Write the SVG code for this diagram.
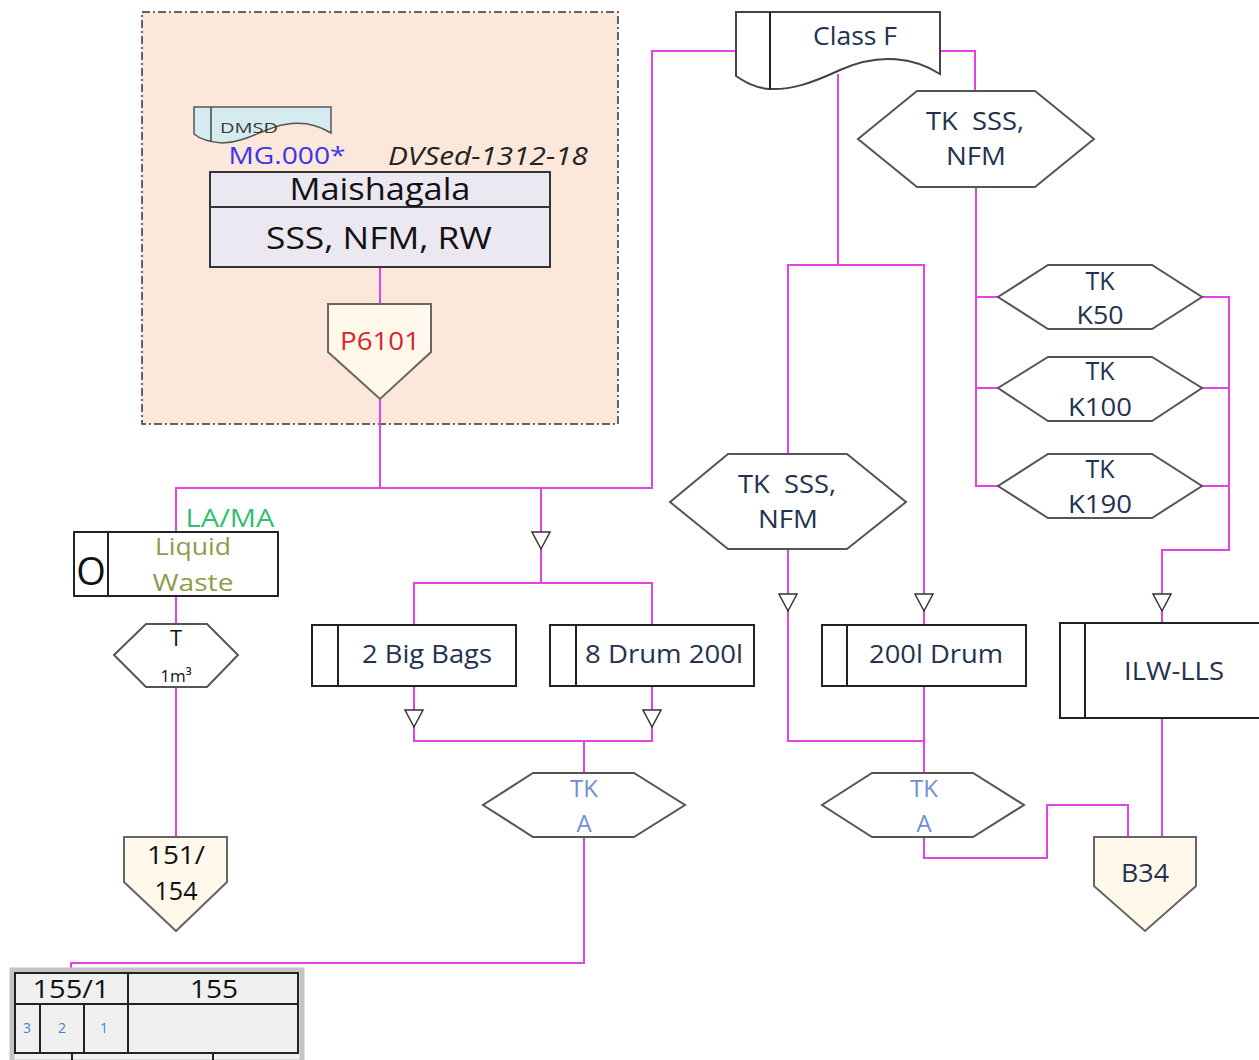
<svg xmlns="http://www.w3.org/2000/svg" width="1259" height="1060" viewBox="0 0 1259 1060">
<style>
text{font-family:"Open Sans","Noto Sans","Liberation Sans",sans-serif;text-anchor:middle;white-space:pre}
.conn{fill:none;stroke:#e443e4;stroke-width:2}
.box{fill:#fff;stroke:#222;stroke-width:2}
.hex{fill:#fff;stroke:#555;stroke-width:2}
.pent{fill:#fff8eb;stroke:#666;stroke-width:2}
.arr{fill:#fff;stroke:#333;stroke-width:1.5}
.dark{fill:#24324f;font-size:25px}
.tka{fill:#6e90cf;font-size:24px}
.tbl{fill:none;stroke:#222;stroke-width:2}
</style>
<rect width="1259" height="1060" fill="#fff"/>
<g id="area">
<rect x="142" y="12" width="476" height="412" fill="#fbe8da" stroke="#333" stroke-width="1.5" stroke-dasharray="8,3,2,3"/>
</g>
<g id="connectors">
<path class="conn" d="M380,267V304"/>
<path class="conn" d="M380,399V488"/>
<path class="conn" d="M176,532V488H652V51H736"/>
<path class="conn" d="M541,488V583"/>
<path class="conn" d="M414,625V583H652V625"/>
<path class="conn" d="M176,596V624"/>
<path class="conn" d="M176,687V837"/>
<path class="conn" d="M414,686V741H652V686"/>
<path class="conn" d="M584,741V773"/>
<path class="conn" d="M584,837V963H71V973"/>
<path class="conn" d="M940,51H975V91"/>
<path class="conn" d="M838,74V265"/>
<path class="conn" d="M788,454V265H924V625"/>
<path class="conn" d="M788,549V741H924"/>
<path class="conn" d="M924,686V773"/>
<path class="conn" d="M924,837V858H1047V805H1128V837"/>
<path class="conn" d="M976,187V486H998M976,297H998M976,388H998"/>
<path class="conn" d="M1202,297H1229V550H1162V623M1202,388H1229M1202,486H1229"/>
<path class="conn" d="M1162,718V837"/>
<polygon class="arr" points="532,532 550,532 541,549"/>
<polygon class="arr" points="405,710 423,710 414,727"/>
<polygon class="arr" points="643,710 661,710 652,727"/>
<polygon class="arr" points="779,594 797,594 788,611"/>
<polygon class="arr" points="915,594 933,594 924,611"/>
<polygon class="arr" points="1153,594 1171,594 1162,611"/>
</g>
<g id="dmsd">
<path d="M194,107H331V133C318,125 300,119 275,127C255,134 240,143 222,143C210,142 200,139 194,134Z" fill="#d6ebf0" stroke="#555" stroke-width="1.5"/>
<line x1="211" y1="107" x2="211" y2="142" stroke="#444" stroke-width="1.5"/>
<text x="249" y="133" textLength="58" lengthAdjust="spacingAndGlyphs" style="font-size:15px;fill:#3a3a3a">DMSD</text>
</g>
<g id="labels-area">
<text x="287" y="164" textLength="117" lengthAdjust="spacingAndGlyphs" style="font-size:23px;fill:#3b35f0">MG.000*</text>
<text x="488" y="165" textLength="200" lengthAdjust="spacingAndGlyphs" style="font-size:25px;font-style:italic;fill:#222">DVSed-1312-18</text>
</g>
<g id="maishagala">
<rect x="210" y="172" width="340" height="95" fill="#ece8f2" stroke="#333" stroke-width="2"/>
<line x1="210" y1="207" x2="550" y2="207" stroke="#333" stroke-width="2"/>
<text x="380" y="200" textLength="181" lengthAdjust="spacingAndGlyphs" style="font-size:31px;fill:#111">Maishagala</text>
<text x="379" y="249" textLength="226" lengthAdjust="spacingAndGlyphs" style="font-size:31px;fill:#111">SSS, NFM, RW</text>
</g>
<g id="p6101">
<polygon class="pent" points="328,304 431,304 431,352 380,399 328,352"/>
<text x="380" y="350" textLength="80" lengthAdjust="spacingAndGlyphs" style="font-size:25px;fill:#d8262e">P6101</text>
</g>
<g id="liquid-waste">
<text x="230" y="527" textLength="89" lengthAdjust="spacingAndGlyphs" style="font-size:25px;fill:#2fbf6e">LA/MA</text>
<rect class="box" x="74" y="532" width="204" height="64"/>
<line x1="108" y1="532" x2="108" y2="596" stroke="#222" stroke-width="2"/>
<text x="91" y="585" style="font-size:38px;fill:#111">O</text>
<text x="193" y="555" textLength="76" lengthAdjust="spacingAndGlyphs" style="font-size:24px;fill:#8d9c4a">Liquid</text>
<text x="193" y="591" textLength="81" lengthAdjust="spacingAndGlyphs" style="font-size:24px;fill:#8d9c4a">Waste</text>
</g>
<g id="tank-t">
<polygon class="hex" points="146,624 207,624 238,655 207,687 146,687 114,655"/>
<text x="176" y="646" style="font-size:22px;fill:#111">T</text>
<text x="176" y="682" style="font-size:17px;fill:#111">1m³</text>
</g>
<g id="p151">
<polygon class="pent" points="124,837 227,837 227,882 176,931 124,882"/>
<text x="176" y="864" textLength="58" lengthAdjust="spacingAndGlyphs" style="font-size:25px;fill:#111">151/</text>
<text x="176" y="900" style="font-size:25px;fill:#111">154</text>
</g>
<g id="big-bags">
<rect class="box" x="312" y="625" width="204" height="61"/>
<line x1="338" y1="625" x2="338" y2="686" stroke="#222" stroke-width="2"/>
<text x="427" y="663" class="dark" textLength="130" lengthAdjust="spacingAndGlyphs">2 Big Bags</text>
</g>
<g id="drum8">
<rect class="box" x="550" y="625" width="204" height="61"/>
<line x1="576" y1="625" x2="576" y2="686" stroke="#222" stroke-width="2"/>
<text x="664" y="663" class="dark" textLength="158" lengthAdjust="spacingAndGlyphs">8 Drum 200l</text>
</g>
<g id="tka1">
<polygon class="hex" points="533,773 634,773 685,805 634,837 533,837 483,805"/>
<text x="584" y="797" class="tka">TK</text>
<text x="584" y="832" class="tka">A</text>
</g>
<g id="table155">
<rect x="12" y="970" width="290" height="92" fill="#f0f0f0" stroke="#c4c4c4" stroke-width="5"/>
<rect class="tbl" x="15" y="973" width="283" height="80"/>
<line class="tbl" x1="15" y1="1004" x2="298" y2="1004"/>
<line class="tbl" x1="128" y1="973" x2="128" y2="1053"/>
<line class="tbl" x1="40" y1="1004" x2="40" y2="1053"/>
<line class="tbl" x1="84" y1="1004" x2="84" y2="1053"/>
<line class="tbl" x1="72" y1="1053" x2="72" y2="1060"/>
<line class="tbl" x1="213" y1="1053" x2="213" y2="1060"/>
<text x="71" y="998" textLength="77" lengthAdjust="spacingAndGlyphs" style="font-size:26px;fill:#111">155/1</text>
<text x="214" y="998" textLength="48" lengthAdjust="spacingAndGlyphs" style="font-size:26px;fill:#111">155</text>
<text x="27" y="1033" style="font-size:14px;fill:#3a86d8">3</text>
<text x="62" y="1033" style="font-size:14px;fill:#3a86d8">2</text>
<text x="104" y="1033" style="font-size:14px;fill:#3a86d8">1</text>
</g>
<g id="classf">
<path d="M736,12H940V74C915,58 880,52 840,70C810,84 790,90 770,89C755,88 745,82 736,76Z" fill="#fff" stroke="#444" stroke-width="2"/>
<line x1="770" y1="12" x2="770" y2="89" stroke="#222" stroke-width="2"/>
<text x="855" y="45" textLength="84" lengthAdjust="spacingAndGlyphs" style="font-size:25px;fill:#24324f">Class F</text>
</g>
<g id="tk-top">
<polygon class="hex" points="917,91 1035,91 1094,139 1035,187 917,187 858,139"/>
<text x="975" y="130" class="dark" textLength="98" lengthAdjust="spacingAndGlyphs">TK  SSS,</text>
<text x="976" y="165" class="dark" textLength="60" lengthAdjust="spacingAndGlyphs">NFM</text>
</g>
<g id="tk-k50">
<polygon class="hex" points="1048,265 1152,265 1202,297 1152,329 1048,329 998,297"/>
<text x="1100" y="290" class="dark">TK</text>
<text x="1100" y="324" class="dark" textLength="47" lengthAdjust="spacingAndGlyphs">K50</text>
</g>
<g id="tk-k100">
<polygon class="hex" points="1048,357 1152,357 1202,388 1152,421 1048,421 998,388"/>
<text x="1100" y="380" class="dark">TK</text>
<text x="1100" y="416" class="dark" textLength="64" lengthAdjust="spacingAndGlyphs">K100</text>
</g>
<g id="tk-k190">
<polygon class="hex" points="1048,454 1152,454 1202,486 1152,518 1048,518 998,486"/>
<text x="1100" y="478" class="dark">TK</text>
<text x="1100" y="513" class="dark" textLength="64" lengthAdjust="spacingAndGlyphs">K190</text>
</g>
<g id="tk-mid">
<polygon class="hex" points="728,454 847,454 906,502 847,549 728,549 670,502"/>
<text x="787" y="493" class="dark" textLength="98" lengthAdjust="spacingAndGlyphs">TK  SSS,</text>
<text x="788" y="528" class="dark" textLength="60" lengthAdjust="spacingAndGlyphs">NFM</text>
</g>
<g id="drum200">
<rect class="box" x="822" y="625" width="204" height="61"/>
<line x1="847" y1="625" x2="847" y2="686" stroke="#222" stroke-width="2"/>
<text x="936" y="663" class="dark" textLength="134" lengthAdjust="spacingAndGlyphs">200l Drum</text>
</g>
<g id="tka2">
<polygon class="hex" points="872,773 973,773 1024,805 973,837 872,837 822,805"/>
<text x="924" y="797" class="tka">TK</text>
<text x="924" y="832" class="tka">A</text>
</g>
<g id="ilw">
<rect class="box" x="1060" y="623" width="210" height="95"/>
<line x1="1085" y1="623" x2="1085" y2="718" stroke="#222" stroke-width="2"/>
<text x="1174" y="680" class="dark" textLength="100" lengthAdjust="spacingAndGlyphs">ILW-LLS</text>
</g>
<g id="b34">
<polygon class="pent" points="1094,837 1196,837 1196,886 1145,931 1094,886"/>
<text x="1145" y="882" textLength="48" lengthAdjust="spacingAndGlyphs" style="font-size:25px;fill:#24324f">B34</text>
</g>
</svg>
